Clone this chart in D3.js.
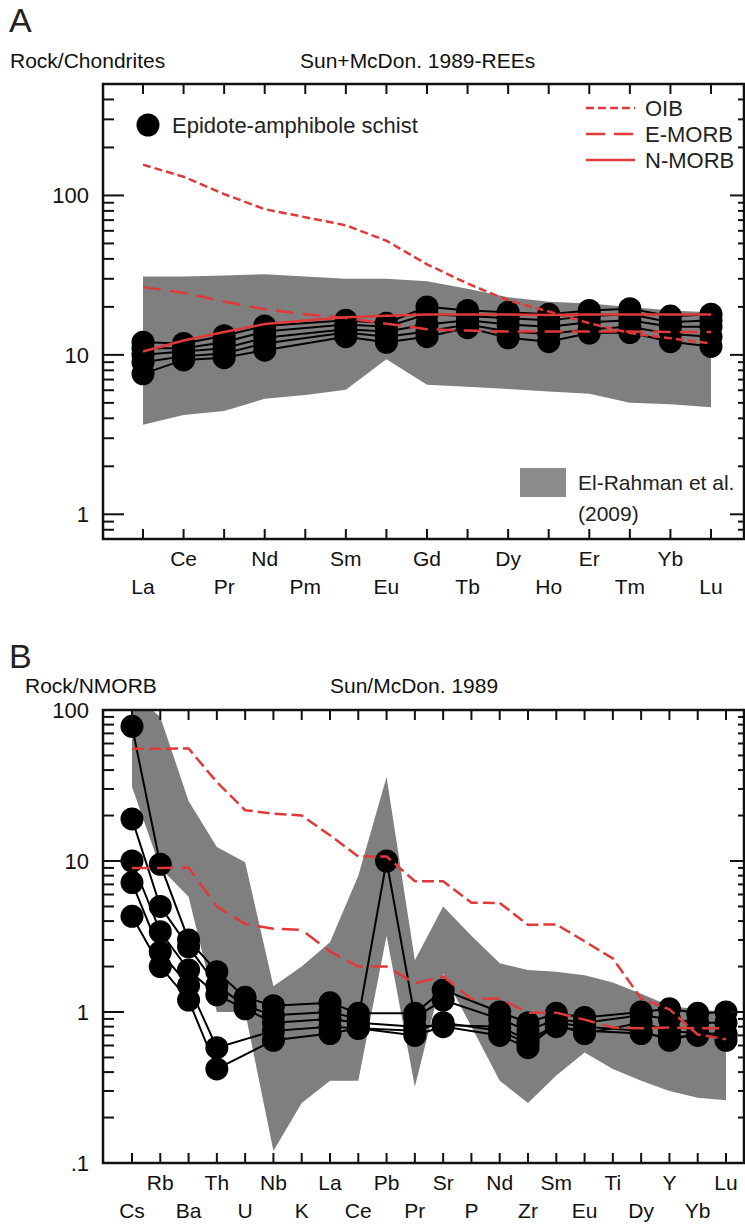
<!DOCTYPE html>
<html>
<head>
<meta charset="utf-8">
<script src="https://cdn.jsdelivr.net/npm/d3@7"></script>
<style>
  body { margin: 0; background: #fff; }
  svg { display: block; font-family: "Liberation Sans", Arial, sans-serif; }
</style>
</head>
<body>
<div id="chart"></div>
<script>
// ---- panel A: REE / chondrite ----
const reeElements = ["La","Ce","Pr","Nd","Pm","Sm","Eu","Gd","Tb","Dy","Ho","Er","Tm","Yb","Lu"];
const reeOIB   = [156, 131, 102, 82, 73, 65, 52, 37, 28, 22, 18.7, 15.8, 13.7, 12.7, 11.8];
const reeEMORB = [26.6, 24.5, 21.6, 19.3, 18, 17, 15.7, 14.5, 14.2, 14, 14, 14, 14, 13.9, 13.9];
const reeNMORB = [10.5, 12.3, 13.9, 15.6, 16.4, 17.2, 17.6, 17.9, 17.9, 17.9, 17.8, 17.9, 17.9, 17.9, 17.9];
const reeBandHigh = [31, 31, 31.5, 32, 31, 30, 30, 29, 26, 23, 21.5, 21, 20, 19, 18.5];
const reeBandLow  = [3.65, 4.2, 4.45, 5.3, 5.6, 6.05, 9.4, 6.5, 6.3, 6.1, 5.9, 5.7, 5.0, 4.9, 4.7];
const reeSamples = [
  [12,   11.8, 13.2, 15.2, null, 16.5, 15.8, 20,   19,   18.5, 18,   19,   19.5, 17.5, 18],
  [11,   11,   12,   14,   null, 15.5, 15,   18,   17.5, 17,   16.5, 17.5, 18,   16,   16.5],
  [10,   10.5, 11,   12.8, null, 14.5, 14,   15.5, 16.5, 15.5, 15,   16,   16.5, 15,   15],
  [9,    9.8,  10.2, 11.8, null, 13.8, 13,   14,   15.5, 14,   13.5, 14.5, 15,   13.5, 13],
  [7.6,  9.3,  9.6,  10.7, null, 13,   12,   13,   14.8, 12.8, 12.1, 13.7, 13.8, 12.1, 11.3]
];

// ---- panel B: spider / N-MORB ----
const spiderElements = ["Cs","Rb","Ba","Th","U","Nb","K","La","Ce","Pb","Pr","Sr","P","Nd","Zr","Sm","Eu","Ti","Dy","Y","Yb","Lu"];
const spiderOIB   = [55.3, 55.4, 55.6, 33.3, 21.7, 20.6, 20, 14.8, 10.7, 10.7, 7.35, 7.33, 5.29, 5.27, 3.78, 3.8, 2.94, 2.26, 1.23, 1.04, 0.71, 0.66];
const spiderEMORB = [9, 9, 9.05, 5, 3.83, 3.56, 3.5, 2.52, 2, 2, 1.55, 1.72, 1.22, 1.23, 0.99, 0.99, 0.89, 0.79, 0.78, 0.79, 0.78, 0.78];
const spiderBandHigh = [130, 90, 25, 12.4, 9.8, 1.48, 2.0, 2.9, 8, 36, 2.2, 5.0, 3.2, 2.1, 1.9, 1.85, 1.75, 1.57, 1.32, 1.1, 1.04, 1.0];
const spiderBandLow  = [31, 9, 5.8, 1.0, 1.0, 0.12, 0.25, 0.35, 0.35, 3.2, 0.32, 1.8, 0.8, 0.35, 0.25, 0.38, 0.54, 0.42, 0.35, 0.30, 0.27, 0.26];
const spiderSamples = [
  [78,  9.5, 3.0, 1.85, 1.25, 1.1,  null, 1.15, 0.98, null, 0.98, 1.4,  null, 1.0,  0.85, 0.98, 0.92, null, 1.0,  1.05, 0.98, 1.0],
  [19,  5.0, 2.7, 1.5,  1.1,  0.95, null, 1.0,  0.9,  10,   0.92, 1.2,  null, 0.9,  0.75, 0.9,  0.85, null, 0.95, 0.9,  0.85, 0.85],
  [10,  3.4, 1.9, 1.3,  1.05, 0.85, null, 0.9,  0.85, null, 0.8,  0.82, null, 0.8,  0.65, 0.82, 0.72, null, 0.85, 0.75, 0.72, 0.65],
  [7.2, 2.5, 1.5, 0.58, null, 0.75, null, 0.8,  0.78, null, 0.7,  0.8,  null, 0.7,  0.58, 0.85, 0.8,  null, 0.75, 0.65, 0.72, 0.72],
  [4.3, 2.0, 1.2, 0.42, null, 0.65, null, 0.72, 0.78, null, 0.75, 0.85, null, 0.75, 0.62, 0.8,  0.75, null, 0.72, 0.68, 0.7,  0.7]
];

const width = 745, height = 1230;
const frameLeft = 103, frameRight = 744;
const red = "#e0393a";
const bandGrey = "#7f7f7f";

const svg = d3.select("#chart")
  .append("svg")
    .attr("width", width)
    .attr("height", height);

const drawPanel = (p) => {

  const g = svg.append("g");

  const x = d3.scaleLinear()
    .domain([0, p.elements.length - 1])
    .range(p.xRange);

  const y = d3.scaleLog()
    .domain(p.yDomain)
    .range([p.bottom, p.top]);

  svg.append("clipPath")
      .attr("id", "clip-" + p.id)
    .append("rect")
      .attr("x", frameLeft)
      .attr("y", p.top)
      .attr("width", frameRight - frameLeft)
      .attr("height", p.bottom - p.top);

  const plot = g.append("g").attr("clip-path", `url(#clip-${p.id})`);

  // grey field of El-Rahman et al. (2009)
  const area = d3.area()
    .x((d, i) => x(i))
    .y0((d, i) => y(p.bandLow[i]))
    .y1((d, i) => y(p.bandHigh[i]));

  plot.append("path")
    .datum(p.elements)
    .attr("d", area)
    .attr("fill", bandGrey);

  // samples
  const line = d3.line()
    .x(d => x(d.i))
    .y(d => y(d.v));

  const samplePoints = p.samples.map(s => s.map((v, i) => ({ i, v })).filter(d => d.v != null));

  plot.selectAll(".sample")
    .data(samplePoints)
    .join("path")
      .attr("class", "sample")
      .attr("d", line)
      .attr("fill", "none")
      .attr("stroke", "#000")
      .attr("stroke-width", 2);

  plot.selectAll(".dot")
    .data(samplePoints.flat())
    .join("circle")
      .attr("class", "dot")
      .attr("cx", d => x(d.i))
      .attr("cy", d => y(d.v))
      .attr("r", 11.5)
      .attr("fill", "#000");

  // reference compositions
  p.models.forEach(m => {
    plot.append("path")
      .datum(m.values.map((v, i) => ({ i, v })))
      .attr("d", line)
      .attr("fill", "none")
      .attr("stroke", red)
      .attr("stroke-width", 2.5)
      .attr("stroke-dasharray", m.dash);
  });

  // frame
  g.append("rect")
    .attr("x", frameLeft)
    .attr("y", p.top)
    .attr("width", frameRight - frameLeft)
    .attr("height", p.bottom - p.top)
    .attr("fill", "none")
    .attr("stroke", "#111")
    .attr("stroke-width", 2.5);

  // y ticks, both sides, pointing inward
  const yTicks = y.ticks().filter(t => t >= p.yDomain[0] && t <= p.yDomain[1]);
  const isMajor = t => Math.abs(Math.log10(t) - Math.round(Math.log10(t))) < 1e-9;

  g.selectAll(".ytick-l")
    .data(yTicks)
    .join("line")
      .attr("x1", frameLeft)
      .attr("x2", t => frameLeft + (isMajor(t) ? 21 : 11))
      .attr("y1", t => y(t))
      .attr("y2", t => y(t))
      .attr("stroke", "#111")
      .attr("stroke-width", 2);

  g.selectAll(".ytick-r")
    .data(yTicks)
    .join("line")
      .attr("x1", frameRight)
      .attr("x2", t => frameRight - (isMajor(t) ? 14 : 6))
      .attr("y1", t => y(t))
      .attr("y2", t => y(t))
      .attr("stroke", "#111")
      .attr("stroke-width", 2);

  g.selectAll(".ylabel")
    .data(p.yLabels)
    .join("text")
      .attr("x", 89)
      .attr("y", d => y(d.v))
      .attr("dy", "0.35em")
      .attr("text-anchor", "end")
      .attr("font-size", 22)
      .attr("fill", "#111")
      .text(d => d.label);

  // x ticks top and bottom
  g.selectAll(".xtick-t")
    .data(p.elements)
    .join("line")
      .attr("x1", (d, i) => x(i))
      .attr("x2", (d, i) => x(i))
      .attr("y1", p.top)
      .attr("y2", p.top + 10)
      .attr("stroke", "#111")
      .attr("stroke-width", 2);

  g.selectAll(".xtick-b")
    .data(p.elements)
    .join("line")
      .attr("x1", (d, i) => x(i))
      .attr("x2", (d, i) => x(i))
      .attr("y1", p.bottom)
      .attr("y2", p.bottom - 10)
      .attr("stroke", "#111")
      .attr("stroke-width", 2);

  g.selectAll(".xlabel")
    .data(p.elements)
    .join("text")
      .attr("x", (d, i) => x(i))
      .attr("y", (d, i) => p.bottom + (i % 2 === 1 ? 27 : 55))
      .attr("text-anchor", "middle")
      .attr("font-size", 21)
      .attr("fill", "#111")
      .text(d => d);

  // headings
  g.append("text")
    .attr("x", 9).attr("y", p.letterY)
    .attr("font-size", 34)
    .attr("fill", "#222")
    .text(p.letter);

  g.append("text")
    .attr("x", p.normX).attr("y", p.titleY)
    .attr("font-size", 21)
    .attr("fill", "#111")
    .text(p.norm);

  g.append("text")
    .attr("x", p.refX).attr("y", p.titleY)
    .attr("font-size", 21)
    .attr("fill", "#111")
    .text(p.ref);

  return { x, y, g };
};

const panelA = drawPanel({
  id: "a",
  letter: "A", letterY: 32, titleY: 68,
  norm: "Rock/Chondrites", normX: 10,
  ref: "Sun+McDon. 1989-REEs", refX: 300,
  elements: reeElements,
  xRange: [143, 711],
  yDomain: [0.7, 500],
  top: 84, bottom: 539,
  yLabels: [{ v: 100, label: "100" }, { v: 10, label: "10" }, { v: 1, label: "1" }],
  bandHigh: reeBandHigh, bandLow: reeBandLow,
  samples: reeSamples,
  models: [
    { values: reeOIB, dash: "8,4" },
    { values: reeEMORB, dash: "18,9" },
    { values: reeNMORB, dash: null }
  ]
});

const panelB = drawPanel({
  id: "b",
  letter: "B", letterY: 668, titleY: 693,
  norm: "Rock/NMORB", normX: 25,
  ref: "Sun/McDon. 1989", refX: 330,
  elements: spiderElements,
  xRange: [132, 726],
  yDomain: [0.1, 100],
  top: 710, bottom: 1163,
  yLabels: [{ v: 100, label: "100" }, { v: 10, label: "10" }, { v: 1, label: "1" }, { v: 0.1, label: ".1" }],
  bandHigh: spiderBandHigh, bandLow: spiderBandLow,
  samples: spiderSamples,
  models: [
    { values: spiderOIB, dash: "12,5" },
    { values: spiderEMORB, dash: "17,8" }
  ]
});

// ---- legend in panel A ----
const legend = panelA.g.append("g");

legend.append("circle")
  .attr("cx", 148).attr("cy", 125).attr("r", 11.5).attr("fill", "#000");
legend.append("text")
  .attr("x", 172).attr("y", 133)
  .attr("font-size", 22).attr("fill", "#222")
  .text("Epidote-amphibole schist");

const legendModels = [
  { label: "OIB", dash: "8,4" },
  { label: "E-MORB", dash: "19,9" },
  { label: "N-MORB", dash: null }
];

legendModels.forEach((m, i) => {
  const ly = 108 + i * 26;
  legend.append("line")
    .attr("x1", 586).attr("x2", 635)
    .attr("y1", ly).attr("y2", ly)
    .attr("stroke", red).attr("stroke-width", 2.5)
    .attr("stroke-dasharray", m.dash);
  legend.append("text")
    .attr("x", 645).attr("y", ly + 8)
    .attr("font-size", 22).attr("fill", "#222")
    .text(m.label);
});

legend.append("rect")
  .attr("x", 520).attr("y", 468).attr("width", 46).attr("height", 29)
  .attr("fill", "#8c8c8c");
legend.append("text")
  .attr("x", 578).attr("y", 490)
  .attr("font-size", 21).attr("fill", "#222")
  .text("El-Rahman et al.");
legend.append("text")
  .attr("x", 578).attr("y", 521)
  .attr("font-size", 21).attr("fill", "#222")
  .text("(2009)");
</script>
</body>
</html>
